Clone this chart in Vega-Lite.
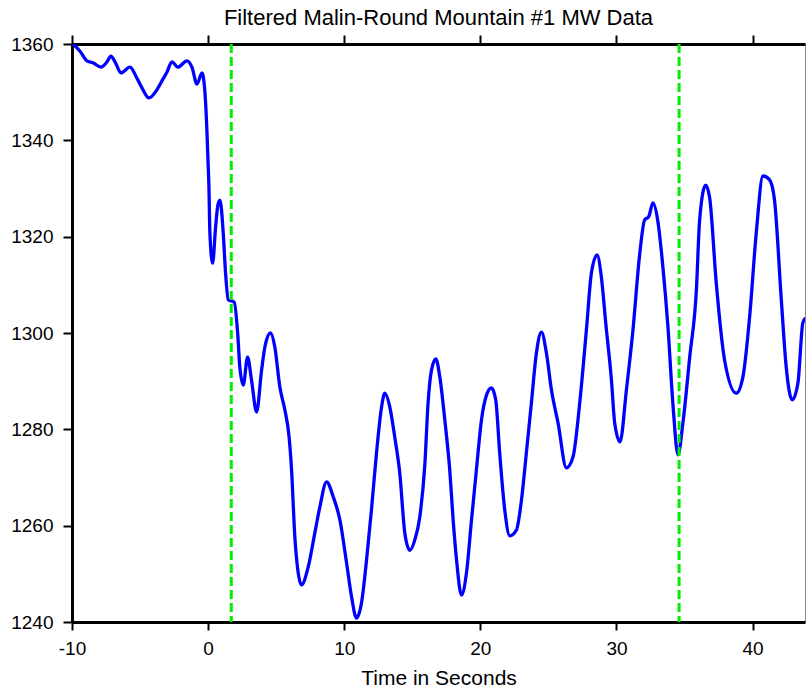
{
  "$schema": "https://vega.github.io/schema/vega-lite/v6.json",
  "width": 733,
  "height": 578,
  "autosize": {"type": "none"},
  "padding": {"left": 72, "top": 44, "right": 1, "bottom": 70},
  "background": "white",
  "config": {
    "view": {"stroke": "#8c8c8c", "strokeWidth": 1},
    "font": "Liberation Sans",
    "axis": {"grid": false, "domainColor": "black", "tickColor": "black", "labelColor": "black", "titleColor": "black", "labelFont": "Liberation Sans", "titleFont": "Liberation Sans", "labelFontWeight": "normal", "titleFontWeight": "normal"}
  },
  "title": {"text": "Filtered Malin-Round Mountain #1 MW Data", "font": "Liberation Sans", "fontSize": 22, "fontWeight": "normal", "color": "black", "anchor": "middle", "offset": 4},
  "datasets": {
    "mw": [
      {"t": -9.93, "mw": 1360.0}, {"t": -9.41, "mw": 1358.5}, {"t": -8.9, "mw": 1356.5}, {"t": -8.46, "mw": 1356.1},
      {"t": -7.87, "mw": 1355.2}, {"t": -7.43, "mw": 1356.3}, {"t": -7.14, "mw": 1357.5}, {"t": -6.84, "mw": 1356.3},
      {"t": -6.4, "mw": 1354.0}, {"t": -5.74, "mw": 1355.2}, {"t": -5.23, "mw": 1352.9}, {"t": -4.86, "mw": 1350.9},
      {"t": -4.35, "mw": 1348.8}, {"t": -3.76, "mw": 1350.5}, {"t": -3.32, "mw": 1352.7}, {"t": -3.02, "mw": 1354.2},
      {"t": -2.66, "mw": 1356.3}, {"t": -2.22, "mw": 1355.2}, {"t": -1.56, "mw": 1356.5}, {"t": -1.19, "mw": 1355.2},
      {"t": -0.82, "mw": 1351.7}, {"t": -0.45, "mw": 1354.0}, {"t": -0.23, "mw": 1349.8}, {"t": -0.09, "mw": 1342.1},
      {"t": -0.01, "mw": 1335.9}, {"t": 0.06, "mw": 1330.3}, {"t": 0.13, "mw": 1320.8}, {"t": 0.33, "mw": 1314.5},
      {"t": 0.55, "mw": 1322.0}, {"t": 0.72, "mw": 1326.6}, {"t": 0.87, "mw": 1327.6}, {"t": 1.11, "mw": 1320.8},
      {"t": 1.28, "mw": 1312.5}, {"t": 1.48, "mw": 1306.9}, {"t": 1.92, "mw": 1306.4}, {"t": 2.17, "mw": 1300.0},
      {"t": 2.33, "mw": 1292.9}, {"t": 2.58, "mw": 1289.2}, {"t": 2.9, "mw": 1295.0}, {"t": 3.19, "mw": 1290.2},
      {"t": 3.56, "mw": 1283.6}, {"t": 3.93, "mw": 1292.3}, {"t": 4.17, "mw": 1297.1}, {"t": 4.59, "mw": 1300.0},
      {"t": 4.9, "mw": 1297.1}, {"t": 5.27, "mw": 1288.8}, {"t": 5.64, "mw": 1284.0}, {"t": 5.95, "mw": 1278.4},
      {"t": 6.13, "mw": 1271.6}, {"t": 6.37, "mw": 1257.7}, {"t": 6.59, "mw": 1250.8}, {"t": 6.86, "mw": 1247.7},
      {"t": 7.35, "mw": 1251.4}, {"t": 7.84, "mw": 1258.5}, {"t": 8.21, "mw": 1263.9}, {"t": 8.7, "mw": 1269.1},
      {"t": 9.19, "mw": 1266.0}, {"t": 9.68, "mw": 1261.2}, {"t": 10.17, "mw": 1252.3}, {"t": 10.54, "mw": 1245.2},
      {"t": 10.9, "mw": 1240.8}, {"t": 11.27, "mw": 1244.0}, {"t": 11.64, "mw": 1252.9}, {"t": 12.0, "mw": 1263.3},
      {"t": 12.37, "mw": 1275.1}, {"t": 12.74, "mw": 1284.6}, {"t": 12.98, "mw": 1287.5}, {"t": 13.35, "mw": 1284.6},
      {"t": 13.71, "mw": 1278.4}, {"t": 14.08, "mw": 1270.9}, {"t": 14.45, "mw": 1258.5}, {"t": 14.82, "mw": 1254.9},
      {"t": 15.18, "mw": 1257.0}, {"t": 15.55, "mw": 1261.8}, {"t": 15.92, "mw": 1272.6}, {"t": 16.16, "mw": 1285.5},
      {"t": 16.41, "mw": 1292.3}, {"t": 16.73, "mw": 1294.6}, {"t": 17.02, "mw": 1290.9}, {"t": 17.39, "mw": 1281.9},
      {"t": 17.75, "mw": 1271.6}, {"t": 18.0, "mw": 1261.2}, {"t": 18.25, "mw": 1252.9}, {"t": 18.61, "mw": 1245.6},
      {"t": 18.98, "mw": 1250.2}, {"t": 19.35, "mw": 1261.2}, {"t": 19.71, "mw": 1271.6}, {"t": 20.08, "mw": 1281.9},
      {"t": 20.45, "mw": 1287.1}, {"t": 20.81, "mw": 1288.6}, {"t": 21.13, "mw": 1286.1}, {"t": 21.42, "mw": 1275.1},
      {"t": 21.79, "mw": 1263.3}, {"t": 22.16, "mw": 1257.9}, {"t": 22.65, "mw": 1259.1}, {"t": 23.02, "mw": 1265.3},
      {"t": 23.38, "mw": 1275.1}, {"t": 23.75, "mw": 1285.5}, {"t": 24.12, "mw": 1295.9}, {"t": 24.49, "mw": 1300.2},
      {"t": 24.85, "mw": 1295.9}, {"t": 25.22, "mw": 1288.2}, {"t": 25.71, "mw": 1281.3}, {"t": 26.32, "mw": 1272.0},
      {"t": 26.81, "mw": 1274.3}, {"t": 27.3, "mw": 1285.5}, {"t": 27.79, "mw": 1300.6}, {"t": 28.16, "mw": 1312.5},
      {"t": 28.57, "mw": 1316.2}, {"t": 28.89, "mw": 1311.6}, {"t": 29.21, "mw": 1302.1}, {"t": 29.63, "mw": 1290.2},
      {"t": 29.87, "mw": 1281.3}, {"t": 30.26, "mw": 1277.4}, {"t": 30.73, "mw": 1288.2}, {"t": 31.21, "mw": 1300.6},
      {"t": 31.7, "mw": 1316.2}, {"t": 32.07, "mw": 1323.5}, {"t": 32.36, "mw": 1324.1}, {"t": 32.68, "mw": 1327.0},
      {"t": 33.05, "mw": 1323.0}, {"t": 33.41, "mw": 1313.7}, {"t": 33.78, "mw": 1301.3}, {"t": 34.15, "mw": 1285.1},
      {"t": 34.52, "mw": 1274.7}, {"t": 34.88, "mw": 1281.3}, {"t": 35.38, "mw": 1295.0}, {"t": 35.87, "mw": 1308.9},
      {"t": 36.11, "mw": 1323.5}, {"t": 36.55, "mw": 1330.7}, {"t": 36.84, "mw": 1328.2}, {"t": 37.33, "mw": 1310.4},
      {"t": 37.94, "mw": 1294.4}, {"t": 38.8, "mw": 1287.5}, {"t": 39.29, "mw": 1290.9}, {"t": 39.78, "mw": 1303.3},
      {"t": 40.27, "mw": 1320.8}, {"t": 40.76, "mw": 1332.6}, {"t": 41.25, "mw": 1331.8}, {"t": 41.61, "mw": 1327.6},
      {"t": 42.11, "mw": 1306.9}, {"t": 42.47, "mw": 1292.9}, {"t": 42.91, "mw": 1286.1}, {"t": 43.33, "mw": 1289.6},
      {"t": 43.69, "mw": 1302.1}, {"t": 43.89, "mw": 1303.1}
    ],
    "markers": [{"t": 1.7}, {"t": 34.6}]
  },
  "layer": [
    {
      "data": {"name": "mw"},
      "mark": {"type": "line", "color": "#0000ff", "strokeWidth": 3.3, "interpolate": "monotone", "clip": true},
      "encoding": {
        "x": {"field": "t", "type": "quantitative", "scale": {"domain": [-10, 43.85], "nice": false, "zero": false},
          "axis": {"orient": "bottom", "values": [-10, 0, 10, 20, 30, 40], "labelExpr": "datum.value < 0 ? '-' + abs(datum.value) : '' + datum.value", "title": "Time in Seconds", "titleFontSize": 21, "labelFontSize": 19, "tickSize": 8, "tickWidth": 2, "domainWidth": 3, "labelPadding": 9, "titlePadding": 9, "labelFlush": false}},
        "y": {"field": "mw", "type": "quantitative", "scale": {"domain": [1240, 1360], "nice": false, "zero": false},
          "axis": {"orient": "left", "values": [1240, 1260, 1280, 1300, 1320, 1340, 1360], "format": "d", "title": null, "labelFontSize": 19, "tickSize": 9, "tickWidth": 2, "domainWidth": 3, "labelPadding": 10, "labelFlush": false}}
      }
    },
    {
      "data": {"name": "markers"},
      "mark": {"type": "rule", "color": "#00ee00", "strokeWidth": 3, "strokeDash": [9, 4]},
      "encoding": {
        "x": {"field": "t", "type": "quantitative",
          "axis": {"orient": "top", "values": [-10, 0, 10, 20, 30, 40], "title": null, "labels": false, "tickSize": 9, "tickWidth": 2, "domainWidth": 3}}
      }
    }
  ],
  "resolve": {"axis": {"x": "independent"}}
}
